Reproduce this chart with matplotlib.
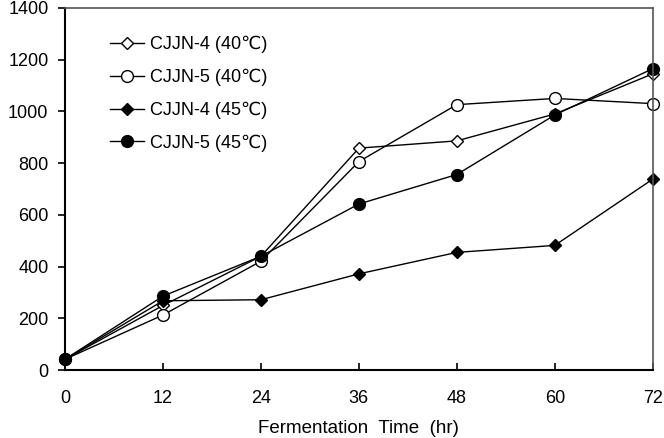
import matplotlib.pyplot as plt
import matplotlib as mpl

mpl.rcParams['font.family'] = ['Liberation Sans', 'DejaVu Sans']
mpl.rcParams['font.size'] = 13

time_hr = [0, 12, 24, 36, 48, 60, 72]
cjjn4_40 = [42, 250, 440, 858, 886, 990, 1145]
cjjn5_40 = [42, 213, 421, 806, 1026, 1050, 1030]
cjjn4_45 = [42, 268, 272, 372, 455, 482, 738]
cjjn5_45 = [42, 286, 440, 642, 756, 986, 1165]

labels = ["CJJN-4 (40\u2103)", "CJJN-5 (40\u2103)", "CJJN-4 (45\u2103)", "CJJN-5 (45\u2103)"]

fig = plt.figure(figsize=(6.64, 4.38), dpi=100)
ax = fig.add_axes([0.098, 0.155, 0.885, 0.827])

ax.plot(time_hr, cjjn4_40, "-D", color="k", lw=1, ms=6.5, mfc="white", mew=1, label=labels[0])
ax.plot(time_hr, cjjn5_40, "-o", color="k", lw=1, ms=8.5, mfc="white", mew=1, label=labels[1])
ax.plot(time_hr, cjjn4_45, "-D", color="k", lw=1, ms=6.5, mfc="black", label=labels[2])
ax.plot(time_hr, cjjn5_45, "-o", color="k", lw=1, ms=8.5, mfc="black", label=labels[3])

ax.set_xlim(0, 72)
ax.set_ylim(0, 1400)
ax.set_xticks(time_hr)
ax.set_yticks(range(0, 1401, 200))
for m in ax.get_lines():
    m.set_clip_on(False)

ax.tick_params(axis="x", direction="in", length=5, width=1.2, pad=14, labelsize=13)
ax.tick_params(axis="y", direction="out", length=5, width=1.2, pad=7, labelsize=13)
ax.spines["left"].set_linewidth(1.5)
ax.spines["bottom"].set_linewidth(1.5)
ax.spines["top"].set_color("#555555")
ax.spines["right"].set_color("#555555")
ax.spines["top"].set_linewidth(1.2)
ax.spines["right"].set_linewidth(1.2)

ax.set_xlabel("Fermentation  Time  (hr)", labelpad=10, fontsize=13.5)

ax.legend(loc="upper left", bbox_to_anchor=(0.052, 0.962), frameon=False, borderpad=0.3,
          handlelength=1.9, labelspacing=0.85, handletextpad=0.3, fontsize=13)

fig.savefig("out.png", dpi=100)
